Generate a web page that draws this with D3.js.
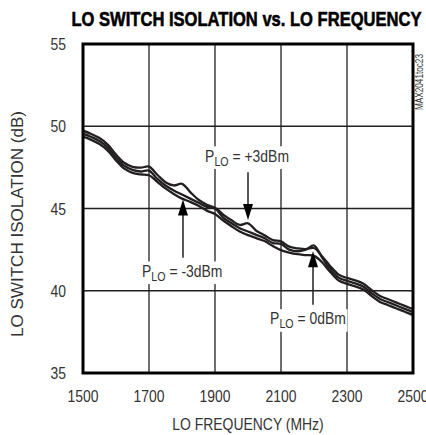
<!DOCTYPE html>
<html>
<head>
<meta charset="utf-8">
<script src="https://cdn.jsdelivr.net/npm/d3@7/dist/d3.min.js"></script>
<style>
  body { margin: 0; background: #fff; }
  svg { display: block; }
  text { font-family: "Liberation Sans", Arial, sans-serif; }
</style>
</head>
<body>
<div id="chart"></div>
<script>
// LO frequency (MHz)
const freq = [1500, 1525, 1550, 1575, 1600, 1625, 1650, 1675, 1700, 1725, 1750, 1775, 1800, 1825, 1850,
  1875, 1900, 1925, 1950, 1975, 2000, 2025, 2050, 2075, 2100, 2125, 2150, 2175, 2200, 2225,
  2250, 2275, 2300, 2325, 2350, 2375, 2400, 2425, 2450, 2475, 2500];

// LO switch isolation (dB) per LO drive level
const isoP3 = [49.73, 49.53, 49.28, 48.88, 48.28, 47.78, 47.53, 47.48, 47.55, 47.05, 46.6, 46.4, 46.5, 46.0, 45.53,
  45.23, 45.05, 44.63, 44.28, 44.0, 44.1, 43.65, 43.38, 43.08, 43.0, 42.68, 42.58, 42.53, 42.6, 42.08,
  41.48, 40.98, 40.78, 40.63, 40.43, 40.03, 39.68, 39.48, 39.28, 39.08, 38.88];
const isoP0 = [49.55, 49.35, 49.1, 48.7, 48.1, 47.6, 47.35, 47.25, 47.3, 46.8, 46.4, 46.1, 45.85, 45.6, 45.35,
  45.1, 45.0, 44.45, 44.1, 43.8, 43.6, 43.4, 43.2, 42.9, 42.85, 42.5, 42.4, 42.5, 42.75, 42.0,
  41.3, 40.8, 40.6, 40.45, 40.25, 39.85, 39.5, 39.3, 39.1, 38.9, 38.7];
const isoM3 = [49.37, 49.17, 48.92, 48.52, 47.92, 47.42, 47.17, 47.07, 47.02, 46.62, 46.22, 45.88, 45.6, 45.4, 45.17,
  44.87, 44.67, 44.27, 43.92, 43.6, 43.38, 43.2, 43.02, 42.72, 42.47, 42.32, 42.22, 42.17, 42.12, 41.72,
  41.12, 40.62, 40.42, 40.27, 40.07, 39.67, 39.32, 39.12, 38.92, 38.72, 38.52];

const xTicks = [1500, 1700, 1900, 2100, 2300, 2500];
const yTicks = [35, 40, 45, 50, 55];

// annotation: label value, arrow frequency, arrow start / tip (dB), label anchor (MHz, dB)
const notes = [
  {label: "+3dBm", f: 2000, from: 47.2, to: 44.3, tf: 1870, tv: 47.85},
  {label: "-3dBm", f: 1803, from: 42.0, to: 45.55, tf: 1679, tv: 40.85},
  {label: "0dBm", f: 2197, from: 39.15, to: 42.4, tf: 2067, tv: 37.95}
];

const W = 426, H = 435;
const L = 83, R = 413, T = 44, B = 373;
const ink = "#231f20", txt = "#333";
const NARROW = 0.82; // Arial -> Arial Narrow width

const svg = d3.select("#chart").append("svg").attr("width", W).attr("height", H);

const x = d3.scaleLinear().domain([1500, 2500]).range([L, R]);
const y = d3.scaleLinear().domain([35, 55]).range([B, T]);

function narrowText(parent, px, py, rot) {
  return parent.append("text")
    .attr("transform", `translate(${px},${py})` + (rot ? ` rotate(${rot})` : "") + ` scale(${NARROW},1)`)
    .attr("font-size", 17).attr("fill", txt);
}

// title
svg.append("text").attr("x", 246.5).attr("y", 26).attr("text-anchor", "middle")
  .attr("font-size", 21).attr("font-weight", "bold").attr("fill", "#000")
  .attr("stroke", "#000").attr("stroke-width", 0.6)
  .attr("textLength", 350).attr("lengthAdjust", "spacingAndGlyphs")
  .text("LO SWITCH ISOLATION vs. LO FREQUENCY");

// grid
const grid = svg.append("g").attr("stroke", ink).attr("stroke-width", 1.3);
grid.selectAll(".vx").data(xTicks.slice(1, -1)).enter().append("line")
  .attr("x1", d => x(d)).attr("x2", d => x(d)).attr("y1", T).attr("y2", B);
grid.selectAll(".hy").data(yTicks.slice(1, -1)).enter().append("line")
  .attr("y1", d => y(d)).attr("y2", d => y(d)).attr("x1", L).attr("x2", R);

// tick labels
xTicks.forEach(d => narrowText(svg, x(d), 402).attr("text-anchor", "middle").text(d));
yTicks.forEach(d => narrowText(svg, 66, y(d) + 6).attr("text-anchor", "end").text(d));

// axis titles
narrowText(svg, 248, 430).attr("text-anchor", "middle").text("LO FREQUENCY (MHz)");
narrowText(svg, 23, 224, -90).attr("text-anchor", "middle")
  .attr("textLength", 226 / NARROW).attr("lengthAdjust", "spacingAndGlyphs")
  .text("LO SWITCH ISOLATION (dB)");

// part code
narrowText(svg, 423, 82, -90).attr("text-anchor", "middle").attr("font-size", 10).text("MAX2041toc23");

// curves
svg.append("clipPath").attr("id", "plot").append("rect")
  .attr("x", L).attr("y", T).attr("width", R - L).attr("height", B - T);
const line = d3.line().x(d => x(d[0])).y(d => y(d[1])).curve(d3.curveCatmullRom.alpha(0.5));
const curves = svg.append("g").attr("clip-path", "url(#plot)");
[isoP3, isoP0, isoM3].forEach(s => {
  curves.append("path").datum(freq.map((f, i) => [f, s[i]]))
    .attr("d", line).attr("fill", "none").attr("stroke", ink).attr("stroke-width", 2.3);
});

// annotations
notes.forEach(n => {
  const g = svg.append("g");
  const t = narrowText(g, x(n.tf), y(n.tv));
  t.append("tspan").text("P");
  t.append("tspan").attr("font-size", 13).attr("dy", 4).text("LO");
  t.append("tspan").attr("dy", -4).text(" = " + n.label);
  const bb = t.node().getBBox();
  g.insert("rect", "text").attr("transform", t.attr("transform"))
    .attr("x", bb.x - 2).attr("y", bb.y).attr("width", bb.width + 4)
    .attr("height", bb.height).attr("fill", "#fff");
  const x0 = x(n.f), y0 = y(n.from), y1 = y(n.to);
  const dir = y1 > y0 ? 1 : -1;
  g.append("line").attr("x1", x0).attr("x2", x0).attr("y1", y0).attr("y2", y1 - dir * 12)
    .attr("stroke", ink).attr("stroke-width", 1.5);
  g.append("path")
    .attr("d", `M${x0},${y1} L${x0 - 5},${y1 - dir * 16} L${x0 + 5},${y1 - dir * 16} Z`)
    .attr("fill", "#000");
});

// frame
svg.append("rect").attr("x", L).attr("y", T).attr("width", R - L).attr("height", B - T)
  .attr("fill", "none").attr("stroke", "#000").attr("stroke-width", 3);
</script>
</body>
</html>
